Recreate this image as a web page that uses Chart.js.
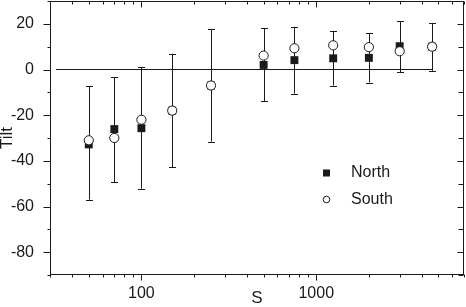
<!DOCTYPE html>
<html>
<head>
<meta charset="utf-8">
<script src="https://cdn.jsdelivr.net/npm/chart.js@4/dist/chart.umd.min.js"></script>
<style>
html,body{margin:0;padding:0;background:#fff;}
#wrap{width:466px;height:307px;position:relative;}
</style>
</head>
<body>
<div id="wrap"><canvas id="c" width="466" height="307"></canvas></div>
<script>
// ---- data ----
const sValues   = [50, 70, 100, 150, 250, 500, 750, 1250, 2000, 3000, 4600];
const northTilt = [-32.8, -26.1, -25.7, -18, -7, 2, 4.1, 4.9, 5.1, 10.2, 10];
const southTilt = [-31, -30, -22, -18, -7, 6.1, 9.3, 10.6, 9.8, 8, 10];
const errLow    = [-57, -49.3, -52.2, -42.8, -31.6, -14, -10.6, -7.1, -5.7, -1.3, -0.6];
const errHigh   = [-7.3, -3.4, 1, 6.9, 17.6, 18.1, 18.7, 16.9, 15.9, 21.1, 20.4];
const zeroLineX = [32.5, 4600];
const zeroLineY = [0, 0];
const yTickValues = [-80, -60, -40, -20, 0, 20];
const yMinorValues = [-90, -70, -50, -30, -10, 10, 30];
const xTickValues = [100, 1000];
const xMinorValues = [30, 40, 50, 60, 70, 80, 90, 200, 300, 400, 500, 600, 700, 800, 900, 2000, 3000, 4000, 5000, 6000, 7000];
const seriesNames = ['North', 'South'];
const xTitle = 'S';
const yTitle = 'Tilt';

const INK = '#1a1a1a';
const FONT = "'Liberation Sans', Arial, sans-serif";

const errorBars = {
  id: 'errorBars',
  beforeDatasetsDraw(chart) {
    const {ctx, scales: {x, y}} = chart;
    ctx.save();
    ctx.strokeStyle = INK;
    ctx.lineWidth = 1;
    for (let i = 0; i < sValues.length; i++) {
      const px = Math.round(x.getPixelForValue(sValues[i])) + 0.5;
      const y1 = y.getPixelForValue(errLow[i]);
      const y2 = y.getPixelForValue(errHigh[i]);
      ctx.beginPath();
      ctx.moveTo(px, y1); ctx.lineTo(px, y2);
      ctx.moveTo(px - 3.5, Math.round(y1) + 0.5); ctx.lineTo(px + 3.5, Math.round(y1) + 0.5);
      ctx.moveTo(px - 3.5, Math.round(y2) + 0.5); ctx.lineTo(px + 3.5, Math.round(y2) + 0.5);
      ctx.stroke();
    }
    ctx.restore();
  }
};

const frameTicks = {
  id: 'frameTicks',
  afterDraw(chart) {
    const {ctx, chartArea: a, scales: {x, y}} = chart;
    ctx.save();
    ctx.strokeStyle = INK;
    ctx.lineWidth = 1;
    const L = Math.round(a.left) + 0.5, R = Math.round(a.right) - 0.5;
    const T = Math.round(a.top) + 0.5, B = Math.round(a.bottom) - 0.5;
    ctx.strokeRect(L, T, R - L, B - T);
    ctx.beginPath();
    const yt = (v, lo, ro) => {
      const py = Math.round(y.getPixelForValue(v)) + 0.5;
      ctx.moveTo(L - lo, py); ctx.lineTo(L, py);
      ctx.moveTo(R - ro, py); ctx.lineTo(R, py);
    };
    yTickValues.forEach(v => yt(v, 7, 6));
    yMinorValues.forEach(v => yt(v, 3, 5));
    const xt = (v, bo, ti) => {
      const px = Math.round(x.getPixelForValue(v)) + 0.5;
      ctx.moveTo(px, B); ctx.lineTo(px, B + bo);
      ctx.moveTo(px, T); ctx.lineTo(px, T + ti);
    };
    xTickValues.forEach(v => xt(v, 6, 6));
    xMinorValues.forEach(v => xt(v, 3, 3));
    ctx.stroke();
    ctx.restore();
  }
};

const insideLegend = {
  id: 'insideLegend',
  afterDraw(chart) {
    const {ctx} = chart;
    ctx.save();
    ctx.font = '16px ' + FONT;
    ctx.textBaseline = 'middle';
    ctx.fillStyle = INK;
    const rows = [173, 199.5];
    const mx = 326.5, tx = 351;
    chart.data.datasets.filter(d => seriesNames.includes(d.label)).sort((a, b) => seriesNames.indexOf(a.label) - seriesNames.indexOf(b.label)).forEach((d, i) => {
      const yy = rows[i];
      ctx.lineWidth = 1;
      ctx.strokeStyle = INK;
      if (d.pointStyle === 'rect') {
        ctx.fillStyle = INK;
        ctx.fillRect(mx - 3.5, yy - 3.5, 7, 7);
      } else {
        ctx.fillStyle = '#fff';
        ctx.beginPath(); ctx.arc(mx, yy, 3.3, 0, Math.PI * 2); ctx.fill(); ctx.stroke();
      }
      ctx.fillStyle = INK;
      ctx.fillText(d.label, tx, yy);
    });
    ctx.restore();
  }
};

new Chart(document.getElementById('c'), {
  type: 'scatter',
  data: {
    datasets: [
      {
        label: 'zero',
        type: 'line',
        data: zeroLineX.map((v, i) => ({x: v, y: zeroLineY[i]})),
        borderColor: INK, borderWidth: 1, pointRadius: 0, fill: false, order: 3
      },
      {
        label: seriesNames[0],
        data: sValues.map((v, i) => ({x: v, y: northTilt[i]})),
        pointStyle: 'rect', pointRadius: 5.6, backgroundColor: INK, borderColor: INK, borderWidth: 0, order: 2
      },
      {
        label: seriesNames[1],
        data: sValues.map((v, i) => ({x: v, y: southTilt[i]})),
        pointStyle: 'circle', pointRadius: 4.6, backgroundColor: '#fff', borderColor: INK, borderWidth: 1, order: 1
      }
    ]
  },
  options: {
    responsive: false,
    animation: false,
    events: [],
    layout: {autoPadding: false, padding: {top: 1, right: 2, left: 0, bottom: 0}},
    plugins: {legend: {display: false}, tooltip: {enabled: false}},
    scales: {
      x: {
        type: 'logarithmic', min: 30, max: 7000,
        afterBuildTicks: s => { s.ticks = xTickValues.map(v => ({value: v})); },
        afterFit: s => { s.height = 32; s.paddingLeft = 0; s.paddingRight = 0; },
        grid: {display: false},
        border: {display: false},
        ticks: {color: INK, font: {family: FONT, size: 16}, padding: 1, autoSkip: false, maxRotation: 0,
          callback: v => String(v)},
        title: {display: true, text: xTitle, color: INK, font: {family: FONT, size: 17, lineHeight: 1}, padding: 0}
      },
      y: {
        type: 'linear', min: -90, max: 30,
        afterBuildTicks: s => { s.ticks = yTickValues.map(v => ({value: v})); },
        afterFit: s => { s.width = 50; s.paddingTop = 0; s.paddingBottom = 0; },
        grid: {display: false},
        border: {display: false},
        ticks: {color: INK, font: {family: FONT, size: 16}, padding: 8},
        title: {display: true, text: yTitle, color: INK, font: {family: FONT, size: 17, lineHeight: 0.82}, padding: 0}
      }
    }
  },
  plugins: [errorBars, frameTicks, insideLegend]
});
</script>
</body>
</html>
